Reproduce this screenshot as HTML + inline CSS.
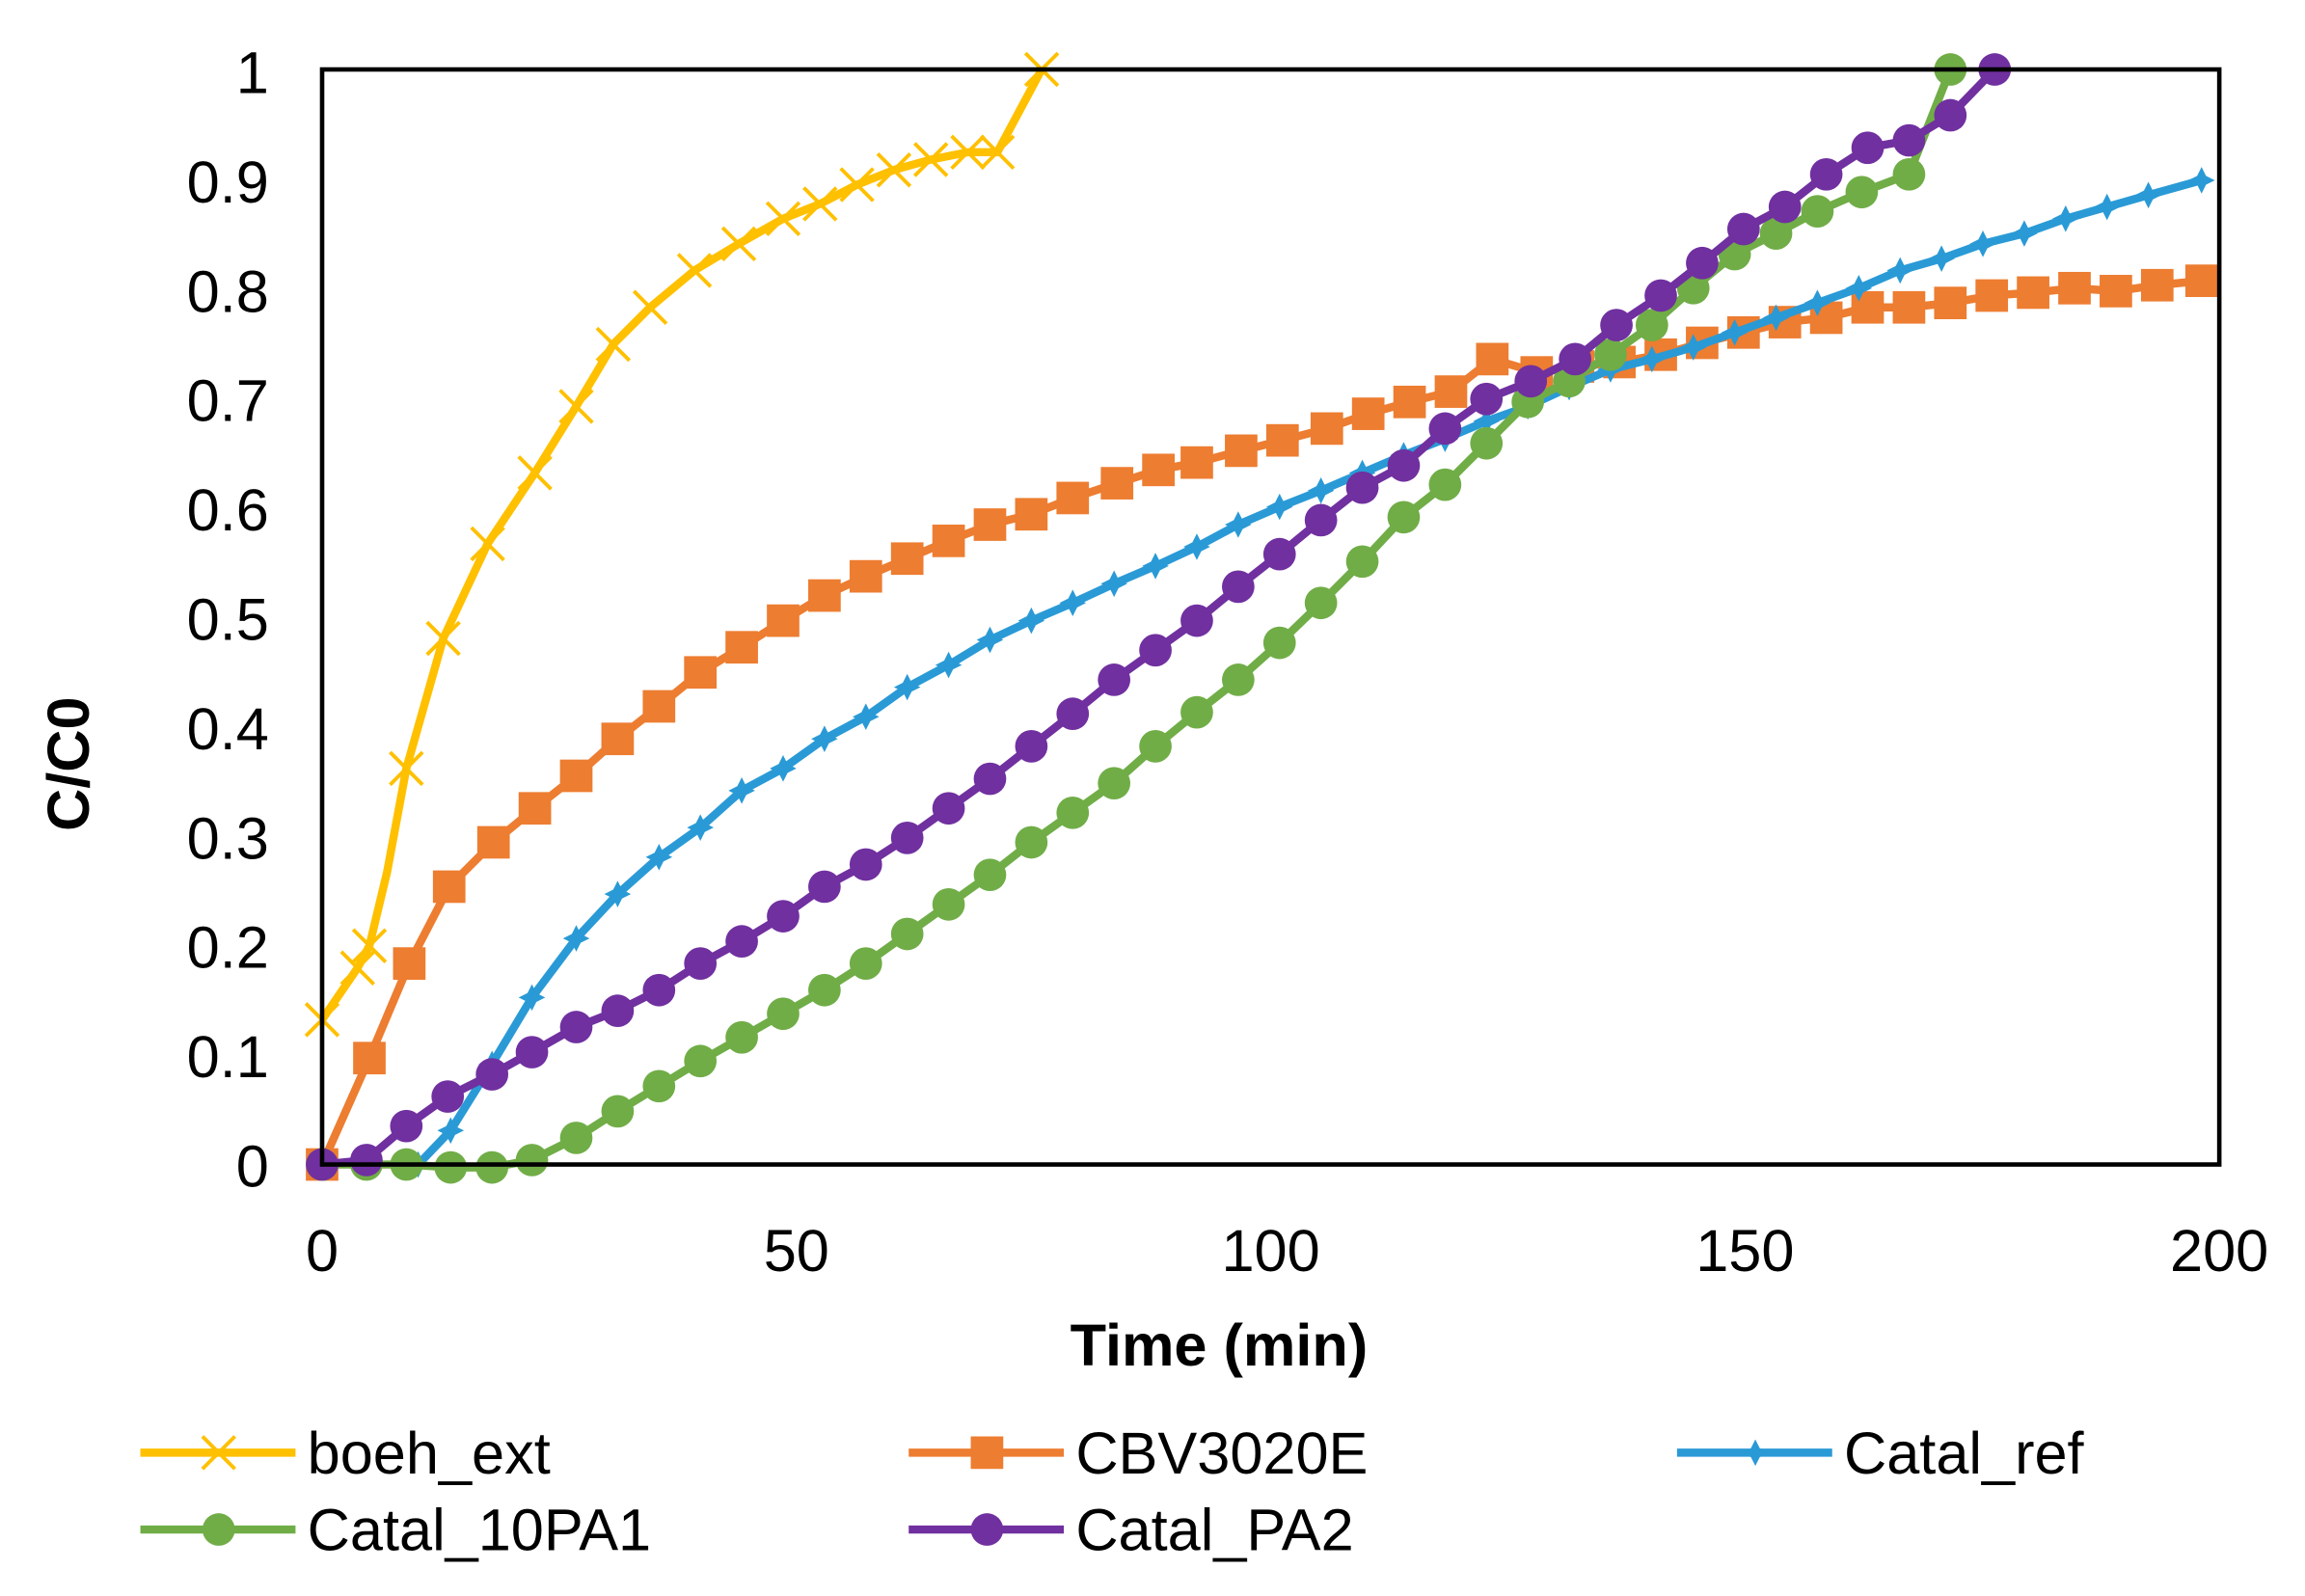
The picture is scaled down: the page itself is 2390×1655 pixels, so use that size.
<!DOCTYPE html>
<html><head><meta charset="utf-8"><style>
html,body{margin:0;padding:0;background:#fff;}
svg{display:block;}
text{font-family:"Liberation Sans",Arial,sans-serif;fill:#000;}
</style></head><body>
<svg id="s" width="2390" height="1655" viewBox="0 0 1560 1080" preserveAspectRatio="none" xmlns="http://www.w3.org/2000/svg">
<rect x="0" y="0" width="1560" height="1080" fill="#fff"/>
<g id="series"></g>
<rect x="218" y="47" width="1284" height="741" fill="none" stroke="#000" stroke-width="3"/>
<g font-size="40" text-anchor="end">
<text x="182" y="803">0</text><text x="182" y="729">0.1</text><text x="182" y="655">0.2</text>
<text x="182" y="581">0.3</text><text x="182" y="507">0.4</text><text x="182" y="433">0.5</text>
<text x="182" y="359">0.6</text><text x="182" y="285">0.7</text><text x="182" y="211">0.8</text>
<text x="182" y="137">0.9</text><text x="182" y="63">1</text>
</g>
<g font-size="40" text-anchor="middle">
<text x="218" y="860">0</text><text x="539" y="860">50</text><text x="860" y="860">100</text>
<text x="1181" y="860">150</text><text x="1502" y="860">200</text>
</g>
<text x="825" y="924" font-size="40" font-weight="bold" text-anchor="middle">Time (min)</text>
<text transform="translate(60,517) rotate(-90)" font-size="40" font-weight="bold" text-anchor="middle">C/C0</text>
<g id="legend" font-size="40"></g>
</svg>
<script>
var S=document.getElementById('series'),L=document.getElementById('legend'),NS='http://www.w3.org/2000/svg';
function el(p,t,a){var e=document.createElementNS(NS,t);for(var k in a)e.setAttribute(k,a[k]);p.appendChild(e);return e;}
function marker(p,type,x,y,c){
 if(type=='x'){el(p,'path',{d:'M'+(x-11)+' '+(y-11)+'L'+(x+11)+' '+(y+11)+'M'+(x-11)+' '+(y+11)+'L'+(x+11)+' '+(y-11),stroke:c,'stroke-width':2.5,fill:'none'});}
 else if(type=='sq'){el(p,'rect',{x:x-11,y:y-11,width:22,height:22,fill:c});}
 else if(type=='c'){el(p,'circle',{cx:x,cy:y,r:11,fill:c});}
 else if(type=='p'){el(p,'path',{d:'M'+x+' '+(y-9)+'L'+(x+3)+' '+(y-3)+'L'+(x+9)+' '+y+'L'+(x+3)+' '+(y+3)+'L'+x+' '+(y+9)+'L'+(x-3)+' '+(y+3)+'L'+(x-9)+' '+y+'L'+(x-3)+' '+(y-3)+'Z',fill:c});}
}
function series(pts,c,type){
 var d='';pts.forEach(function(p,i){d+=(i?'L':'M')+p[0]+' '+p[1];});
 el(S,'path',{d:d,stroke:c,'stroke-width':5.5,fill:'none','stroke-linejoin':'round'});
 pts.forEach(function(p){if(!p[2])marker(S,type,p[0],p[1],c);});
}
var yel=[[218,690],[242,655],[250,640],[262,590,1],[275,520],[300,432],[330,368],[362,320],[390,275],[415,233],[440,208],[470,183],[500,165],[530,148],[555,138],[580,125],[605,115],[630,108],[655,103],[675,103],[705,47]];
var ora=[[218,788],[250,716],[277,652],[304,600],[334,570],[362,547],[390,525],[418,500],[446,478],[474,455],[502,438],[530,420],[558,403],[586,390],[614,378],[642,366],[670,355],[698,348],[726,337],[756,327],[784,318],[810,313],[840,305],[868,298],[898,290],[926,280],[954,272],[982,265],[1010,243],[1040,252],[1068,248],[1096,245],[1124,240],[1152,232],[1180,225],[1208,218],[1236,215],[1264,208],[1292,208],[1320,205],[1348,200],[1376,198],[1404,195],[1432,197],[1460,193],[1490,190]];
var blu=[[283,788],[305,765],[333,720],[360,675],[390,635],[418,605],[446,580],[474,560],[502,535],[530,520],[558,500],[586,485],[614,465],[642,450],[670,433],[698,420],[726,408],[754,395],[782,383],[810,370],[838,355],[866,343],[894,332],[922,320],[950,308],[978,297],[1006,285],[1034,275],[1062,262],[1090,250],[1118,243],[1146,235],[1174,225],[1202,215],[1230,205],[1258,195],[1286,183],[1314,175],[1342,165],[1370,158],[1398,148],[1426,140],[1454,132],[1490,122]];
var gre=[[218,788],[248,788],[275,788],[305,790],[333,790],[360,785],[390,770],[418,752],[446,735],[474,718],[502,702],[530,686],[558,670],[586,652],[614,632],[642,612],[670,592],[698,570],[726,550],[754,530],[782,505],[810,482],[838,460],[866,435],[894,408],[922,380],[950,350],[978,328],[1006,300],[1034,272],[1062,258],[1090,240],[1118,220],[1146,195],[1174,172],[1202,158],[1230,143],[1260,130],[1292,118],[1320,47]];
var pur=[[218,788],[248,785],[275,762],[303,742],[333,727],[360,712],[390,695],[418,684],[446,670],[474,652],[502,637],[530,620],[558,600],[586,585],[614,567],[642,547],[670,527],[698,505],[726,483],[754,460],[782,440],[810,420],[838,397],[866,375],[894,352],[922,330],[950,315],[978,290],[1006,270],[1036,258],[1066,243],[1094,220],[1124,200],[1152,178],[1180,155],[1208,140],[1236,118],[1264,100],[1292,95],[1320,78],[1350,47]];
series(ora,'#ED7D31','sq');series(blu,'#2A9AD6','p');series(gre,'#70AD47','c');series(pur,'#7030A0','c');series(yel,'#FFC000','x');
var lg=[[95,983,'#FFC000','x','boeh_ext'],[615,983,'#ED7D31','sq','CBV3020E'],[1135,983,'#2A9AD6','p','Catal_ref'],[95,1035,'#70AD47','c','Catal_10PA1'],[615,1035,'#7030A0','c','Catal_PA2']];
lg.forEach(function(g){el(L,'line',{x1:g[0],y1:g[1],x2:g[0]+105,y2:g[1],stroke:g[2],'stroke-width':5.5});marker(L,g[3],g[0]+53,g[1],g[2]);var t=el(L,'text',{x:g[0]+113,y:g[1]+14});t.textContent=g[4];});
</script>
</body></html>
